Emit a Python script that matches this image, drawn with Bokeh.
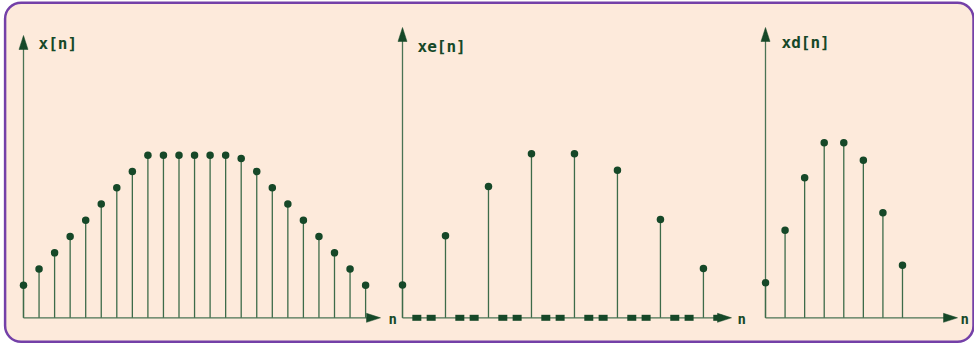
from bokeh.plotting import figure
from bokeh.models import Range1d, BoxAnnotation
from bokeh.core.properties import value
from bokeh.embed import file_html
from bokeh.resources import INLINE

# ---------------- data ----------------
n1 = list(range(23))
x1 = [2, 3, 4, 5, 6, 7, 8, 9, 10, 10, 10, 10, 10, 10, 9.8, 9, 8, 7, 6, 5, 4, 3, 2]

n2 = list(range(23))
x2 = [2, 0, 0, 5, 0, 0, 8, 0, 0, 10, 0, 0, 10, 0, 0, 9, 0, 0, 6, 0, 0, 3, 0]

n3 = list(range(8))
x3 = [2, 5, 8, 10, 10, 9, 6, 3]

labels = ["x[n]", "xe[n]", "xd[n]"]
axis_label = "n"

# ---------------- styling / layout ----------------
W, H = 974, 343
OX, OY = 0, 0
BG = "#fdeadb"
BORDER = "#7440a8"
DARK = "#164828"
STEM = "#3d6b49"
AXC = "#4a7354"

p = figure(width=W, height=H, output_backend="svg", toolbar_location=None,
           min_border=0, x_range=Range1d(0, W), y_range=Range1d(H, 0))
p.xaxis.visible = False
p.yaxis.visible = False
p.xgrid.visible = False
p.ygrid.visible = False
p.outline_line_color = None
p.background_fill_color = "white"
p.border_fill_color = "white"

p.add_layout(BoxAnnotation(left=4.6, right=973, top=2.2, bottom=341.2,
                           fill_color=BG, fill_alpha=1, line_color=BORDER,
                           line_alpha=1, line_width=2.5, border_radius=16,
                           level="underlay"))

BASE = 317.3
panels = [
    dict(X0=23, s=15.55, u=16.25, ytip=35, xtip=380, lab=(38, 34), npos=(388, 318)),
    dict(X0=402, s=14.33, u=16.4, ytip=27, xtip=731, lab=(417, 37), npos=(737, 318)),
    dict(X0=765, s=19.57, u=17.5, ytip=27, xtip=957, lab=(781, 33), npos=(960, 318)),
]

data = [(n1, x1), (n2, x2), (n3, x3)]

for i, (pan, (nn, vv), lab) in enumerate(zip(panels, data, labels)):
    fx0 = pan["X0"] - OX
    fb = BASE - OY
    xr = f"x{i}"
    yr = f"y{i}"
    p.extra_x_ranges[xr] = Range1d(-fx0 / pan["s"], (W - fx0) / pan["s"])
    p.extra_y_ranges[yr] = Range1d(-(H - fb) / pan["u"], fb / pan["u"])

    # axes (pixel coordinates)
    ax = fx0
    ytip = pan["ytip"] - OY
    xtip = pan["xtip"] - OX
    p.segment(x0=[ax], y0=[fb], x1=[ax], y1=[ytip + 13], line_color=AXC, line_width=1.3)
    p.patch(x=[ax, ax - 4.5, ax + 4.5], y=[ytip, ytip + 14, ytip + 14],
            fill_color=DARK, line_color=DARK, line_width=0.5)
    p.segment(x0=[ax], y0=[fb], x1=[xtip - 13], y1=[fb], line_color=AXC, line_width=1.3)
    p.patch(x=[xtip, xtip - 14, xtip - 14], y=[fb, fb - 4.5, fb + 4.5],
            fill_color=DARK, line_color=DARK, line_width=0.5)

    # stems
    nz = [(a, b) for a, b in zip(nn, vv) if b != 0]
    zz = [a for a, b in zip(nn, vv) if b == 0]
    sn = [a for a, _ in nz]
    sv = [b for _, b in nz]
    p.segment(x0=sn, y0=[0] * len(sn), x1=sn, y1=sv, line_color=STEM, line_width=1.3,
              x_range_name=xr, y_range_name=yr)
    p.scatter(sn, sv, size=7.5, marker="circle", fill_color=DARK, line_color=None,
              x_range_name=xr, y_range_name=yr)
    if zz:
        p.rect(x=zz, y=[0] * len(zz), width=9, height=6, width_units="screen",
               height_units="screen", fill_color=DARK, line_color=None,
               x_range_name=xr, y_range_name=yr)

    # labels
    lx, ly = pan["lab"]
    p.text(x=[lx - OX], y=[ly - OY - 1], text=[lab], text_font=value("DejaVu Sans Mono"),
           text_font_style="bold", text_font_size="16px", text_color=DARK,
           text_baseline="top", text_align="left")
    nx, ny = pan["npos"]
    p.text(x=[nx - OX], y=[ny - OY], text=[axis_label], text_font=value("DejaVu Sans Mono"),
           text_font_style="bold", text_font_size="14px", text_color=DARK,
           text_baseline="alphabetic", text_align="left")

open("out.html", "w").write(file_html(p, INLINE))
